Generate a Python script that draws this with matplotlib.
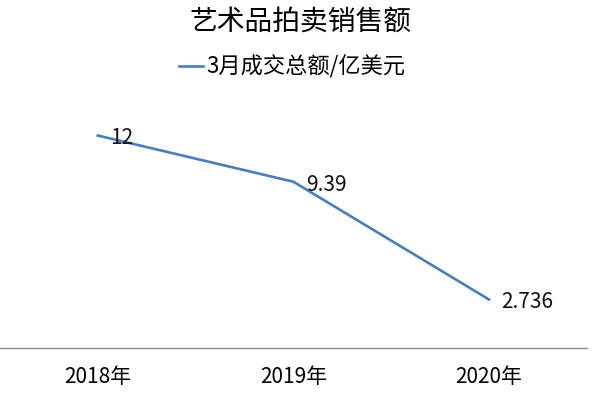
import matplotlib
matplotlib.use('Agg')
import matplotlib.pyplot as plt

plt.rcParams['font.family'] = ['Noto Sans CJK SC', 'DejaVu Sans']

# Data
years = ['2018年', '2019年', '2020年']
totals = [12, 9.39, 2.736]
value_labels = ['12', '9.39', '2.736']
series_name = '3月成交总额/亿美元'
title = '艺术品拍卖销售额'

fig = plt.figure(figsize=(6, 3.99), dpi=100)
ax = fig.add_axes([0.0, 0.128, 0.978, 0.621])

x = list(range(len(years)))
line, = ax.plot(x, totals, color='#4a7ebb', linewidth=1.9)

for xi, yi, lab in zip(x, totals, value_labels):
    ax.annotate(lab, (xi, yi), xytext=(9, -2), textcoords='offset points',
                ha='left', va='center', fontsize=15, color='#111111')

ax.set_xlim(-0.5, 2.5)
ax.set_ylim(0, 14)
ax.set_xticks(x)
ax.set_xticklabels(years, fontsize=15)
ax.tick_params(axis='x', length=0, pad=13)
ax.set_yticks([])

for side in ['top', 'right', 'left']:
    ax.spines[side].set_visible(False)
ax.spines['bottom'].set_color('#868686')
ax.spines['bottom'].set_linewidth(1.0)

fig.text(0.5, 1 - 22 / 399, title, ha='center', va='center', fontsize=20)
fig.legend([line], [series_name], loc='center', bbox_to_anchor=(0.487, 1 - 67 / 399),
           frameon=False, fontsize=16, handlelength=1.1, handletextpad=0.15)

fig.savefig('out.png', dpi=100)
